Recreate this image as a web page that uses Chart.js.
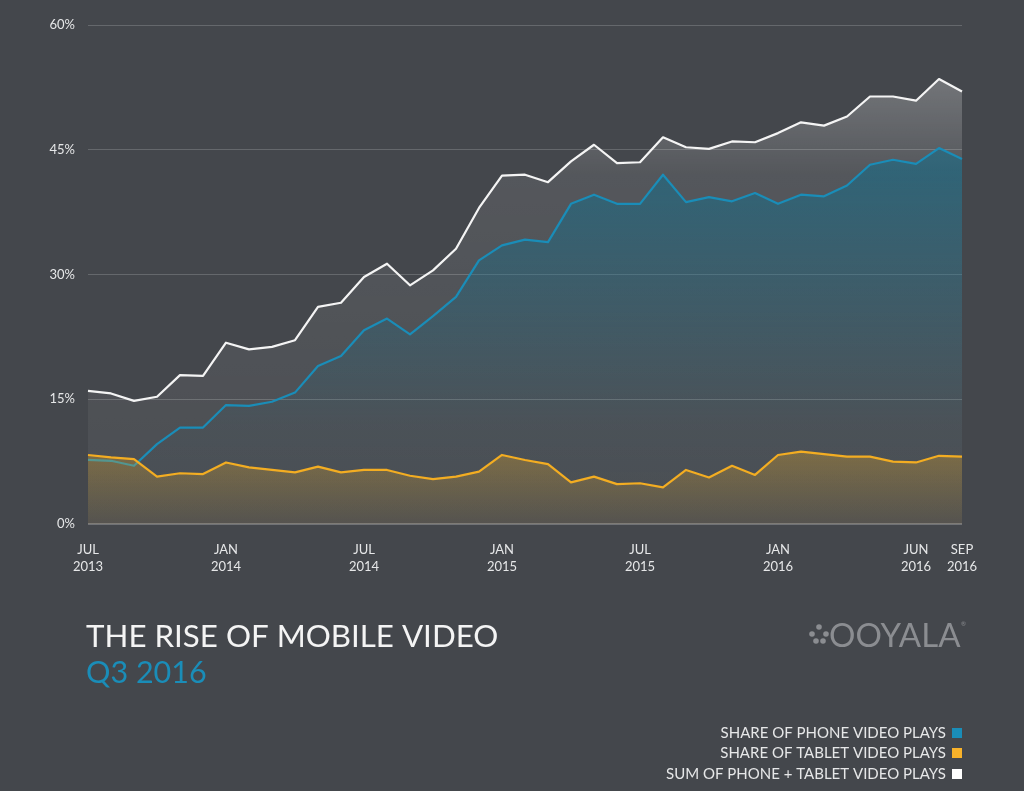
<!DOCTYPE html>
<html>
<head>
<meta charset="utf-8">
<style>
  html, body { margin: 0; padding: 0; background: #44474c; }
  canvas { display: block; }
</style>
<script src="https://cdn.jsdelivr.net/npm/chart.js@4"></script>
</head>
<body>
<canvas id="mobileChart" width="1024" height="791"></canvas>
<script>
// months Jul 2013 .. Sep 2016
const months = [
  'JUL 2013', 'AUG 2013', 'SEP 2013', 'OCT 2013', 'NOV 2013', 'DEC 2013',
  'JAN 2014', 'FEB 2014', 'MAR 2014', 'APR 2014', 'MAY 2014', 'JUN 2014',
  'JUL 2014', 'AUG 2014', 'SEP 2014', 'OCT 2014', 'NOV 2014', 'DEC 2014',
  'JAN 2015', 'FEB 2015', 'MAR 2015', 'APR 2015', 'MAY 2015', 'JUN 2015',
  'JUL 2015', 'AUG 2015', 'SEP 2015', 'OCT 2015', 'NOV 2015', 'DEC 2015',
  'JAN 2016', 'FEB 2016', 'MAR 2016', 'APR 2016', 'MAY 2016', 'JUN 2016',
  'JUL 2016', 'AUG 2016', 'SEP 2016'
];

// which months get a label under the axis (index -> two lines)
const tickLabels = {
  0: ['JUL', '2013'], 6: ['JAN', '2014'], 12: ['JUL', '2014'], 18: ['JAN', '2015'],
  24: ['JUL', '2015'], 30: ['JAN', '2016'], 36: ['JUN', '2016'], 38: ['SEP', '2016']
};

const yTicks = [0, 15, 30, 45, 60];

// share of plays, %
const phoneShare = [
  7.7, 7.6, 7.0, 9.6, 11.6, 11.6, 14.3, 14.2, 14.7, 15.8, 19.0, 20.2,
  23.3, 24.7, 22.8, 25.0, 27.3, 31.7, 33.5, 34.2, 33.9, 38.5, 39.6, 38.5,
  38.5, 42.0, 38.7, 39.3, 38.8, 39.8, 38.5, 39.6, 39.4, 40.7, 43.2, 43.8,
  43.3, 45.2, 43.9
];
const tabletShare = [
  8.3, 8.0, 7.8, 5.7, 6.1, 6.0, 7.4, 6.8, 6.5, 6.2, 6.9, 6.2,
  6.5, 6.5, 5.8, 5.4, 5.7, 6.3, 8.3, 7.7, 7.2, 5.0, 5.7, 4.8,
  4.9, 4.4, 6.5, 5.6, 7.0, 5.9, 8.3, 8.7, 8.4, 8.1, 8.1, 7.5,
  7.4, 8.2, 8.1
];
const totalShare = [
  16.0, 15.7, 14.8, 15.3, 17.9, 17.8, 21.8, 21.0, 21.3, 22.1, 26.1, 26.6,
  29.7, 31.3, 28.7, 30.5, 33.1, 38.0, 41.9, 42.0, 41.1, 43.6, 45.6, 43.4,
  43.5, 46.5, 45.3, 45.1, 46.0, 45.9, 47.0, 48.3, 47.9, 49.0, 51.4, 51.4,
  50.9, 53.5, 52.0
];

const FONT = 'Lato, "Open Sans", sans-serif';

// vertical gradient over the chart area, stops = [[pos, color], ...]
function areaGradient(stops) {
  return (context) => {
    const { chart } = context;
    const area = chart.chartArea;
    if (!area) return null;
    const g = chart.ctx.createLinearGradient(0, area.top, 0, area.bottom);
    stops.forEach(s => g.addColorStop(s[0], s[1]));
    return g;
  };
}

// title, logo and legend drawn under the chart
const extras = {
  id: 'extras',
  afterDraw(chart) {
    const ctx = chart.ctx;
    ctx.save();
    ctx.textBaseline = 'alphabetic';

    // title
    ctx.textAlign = 'left';
    ctx.fillStyle = '#f4f4f4';
    ctx.font = '400 31.3px ' + FONT;
    ctx.fillText('THE RISE OF MOBILE VIDEO', 86, 647);
    ctx.fillStyle = '#1a8db8';
    ctx.font = '400 30.5px ' + FONT;
    ctx.fillText('Q3 2016', 86, 683);

    // logo
    ctx.fillStyle = '#8b8d91';
    [[812, 634], [819, 627], [826, 634], [816, 641], [823, 641]].forEach(p => {
      ctx.beginPath();
      ctx.arc(p[0], p[1], 2.8, 0, Math.PI * 2);
      ctx.fill();
    });
    ctx.font = '400 33px ' + FONT;
    ctx.fillText('OOYALA', 829, 647);
    ctx.font = '6px ' + FONT;
    ctx.fillText('®', 961, 626);

    // legend
    const rows = [
      ['SHARE OF PHONE VIDEO PLAYS', '#1a8db8', 738],
      ['SHARE OF TABLET VIDEO PLAYS', '#f8b22a', 758],
      ['SUM OF PHONE + TABLET VIDEO PLAYS', '#ffffff', 779]
    ];
    ctx.font = '15px ' + FONT;
    ctx.textAlign = 'right';
    rows.forEach(r => {
      ctx.fillStyle = '#e6e7e8';
      ctx.fillText(r[0], 946, r[2]);
      ctx.fillStyle = r[1];
      ctx.fillRect(952, r[2] - 10, 10, 10);
    });
    ctx.restore();
  }
};

const ctx = document.getElementById('mobileChart').getContext('2d');

const mobileChart = new Chart(ctx, {
  type: 'line',
  data: {
    labels: months,
    datasets: [
      {
        label: 'SHARE OF TABLET VIDEO PLAYS',
        data: tabletShare,
        borderColor: '#f3ad22',
        borderWidth: 2.2,
        fill: 'origin',
        backgroundColor: areaGradient([
          [0, 'rgba(245,176,33,0.3)'], [0.85, 'rgba(245,176,33,0.3)'], [1, 'rgba(245,176,33,0.06)']
        ])
      },
      {
        label: 'SHARE OF PHONE VIDEO PLAYS',
        data: phoneShare,
        borderColor: '#1a8db8',
        borderWidth: 2.2,
        fill: 'origin',
        backgroundColor: areaGradient([
          [0, 'rgba(20,110,140,0.6)'], [0.3, 'rgba(20,110,140,0.55)'], [0.8, 'rgba(20,110,140,0.05)'], [1, 'rgba(20,110,140,0)']
        ])
      },
      {
        label: 'SUM OF PHONE + TABLET VIDEO PLAYS',
        data: totalShare,
        borderColor: '#f4f4f4',
        borderWidth: 2.2,
        fill: 'origin',
        backgroundColor: areaGradient([
          [0, 'rgba(255,255,255,0.34)'], [0.3, 'rgba(255,255,255,0.09)'], [1, 'rgba(255,255,255,0.04)']
        ])
      }
    ]
  },
  options: {
    responsive: false,
    animation: false,
    devicePixelRatio: 1,
    layout: { padding: { left: 0, right: 62, top: 25, bottom: 207 } },
    elements: {
      point: { radius: 0 },
      line: { tension: 0, borderJoinStyle: 'round' }
    },
    plugins: {
      legend: { display: false },
      tooltip: { enabled: false }
    },
    scales: {
      x: {
        offset: false,
        grid: { display: false },
        border: { display: false },
        afterFit(scale) { scale.height = 60; },
        ticks: {
          autoSkip: false,
          maxRotation: 0,
          padding: 9,
          color: '#e6e7e8',
          font: { family: FONT, size: 13, lineHeight: 1.3 },
          callback: (value, index) => tickLabels[index] || ''
        }
      },
      y: {
        min: 0,
        max: 60,
        afterFit(scale) { scale.width = 88; },
        afterBuildTicks(scale) { scale.ticks = yTicks.map(v => ({ value: v })); },
        grid: {
          drawTicks: false,
          color: (c) => c.tick && c.tick.value === 0 ? '#707276' : '#65686c',
          lineWidth: (c) => c.tick && c.tick.value === 0 ? 2 : 1
        },
        border: { display: false },
        ticks: {
          padding: 13,
          color: '#e6e7e8',
          font: { family: FONT, size: 13 },
          callback: (v) => v + '%'
        }
      }
    }
  },
  plugins: [extras]
});
</script>
</body>
</html>
